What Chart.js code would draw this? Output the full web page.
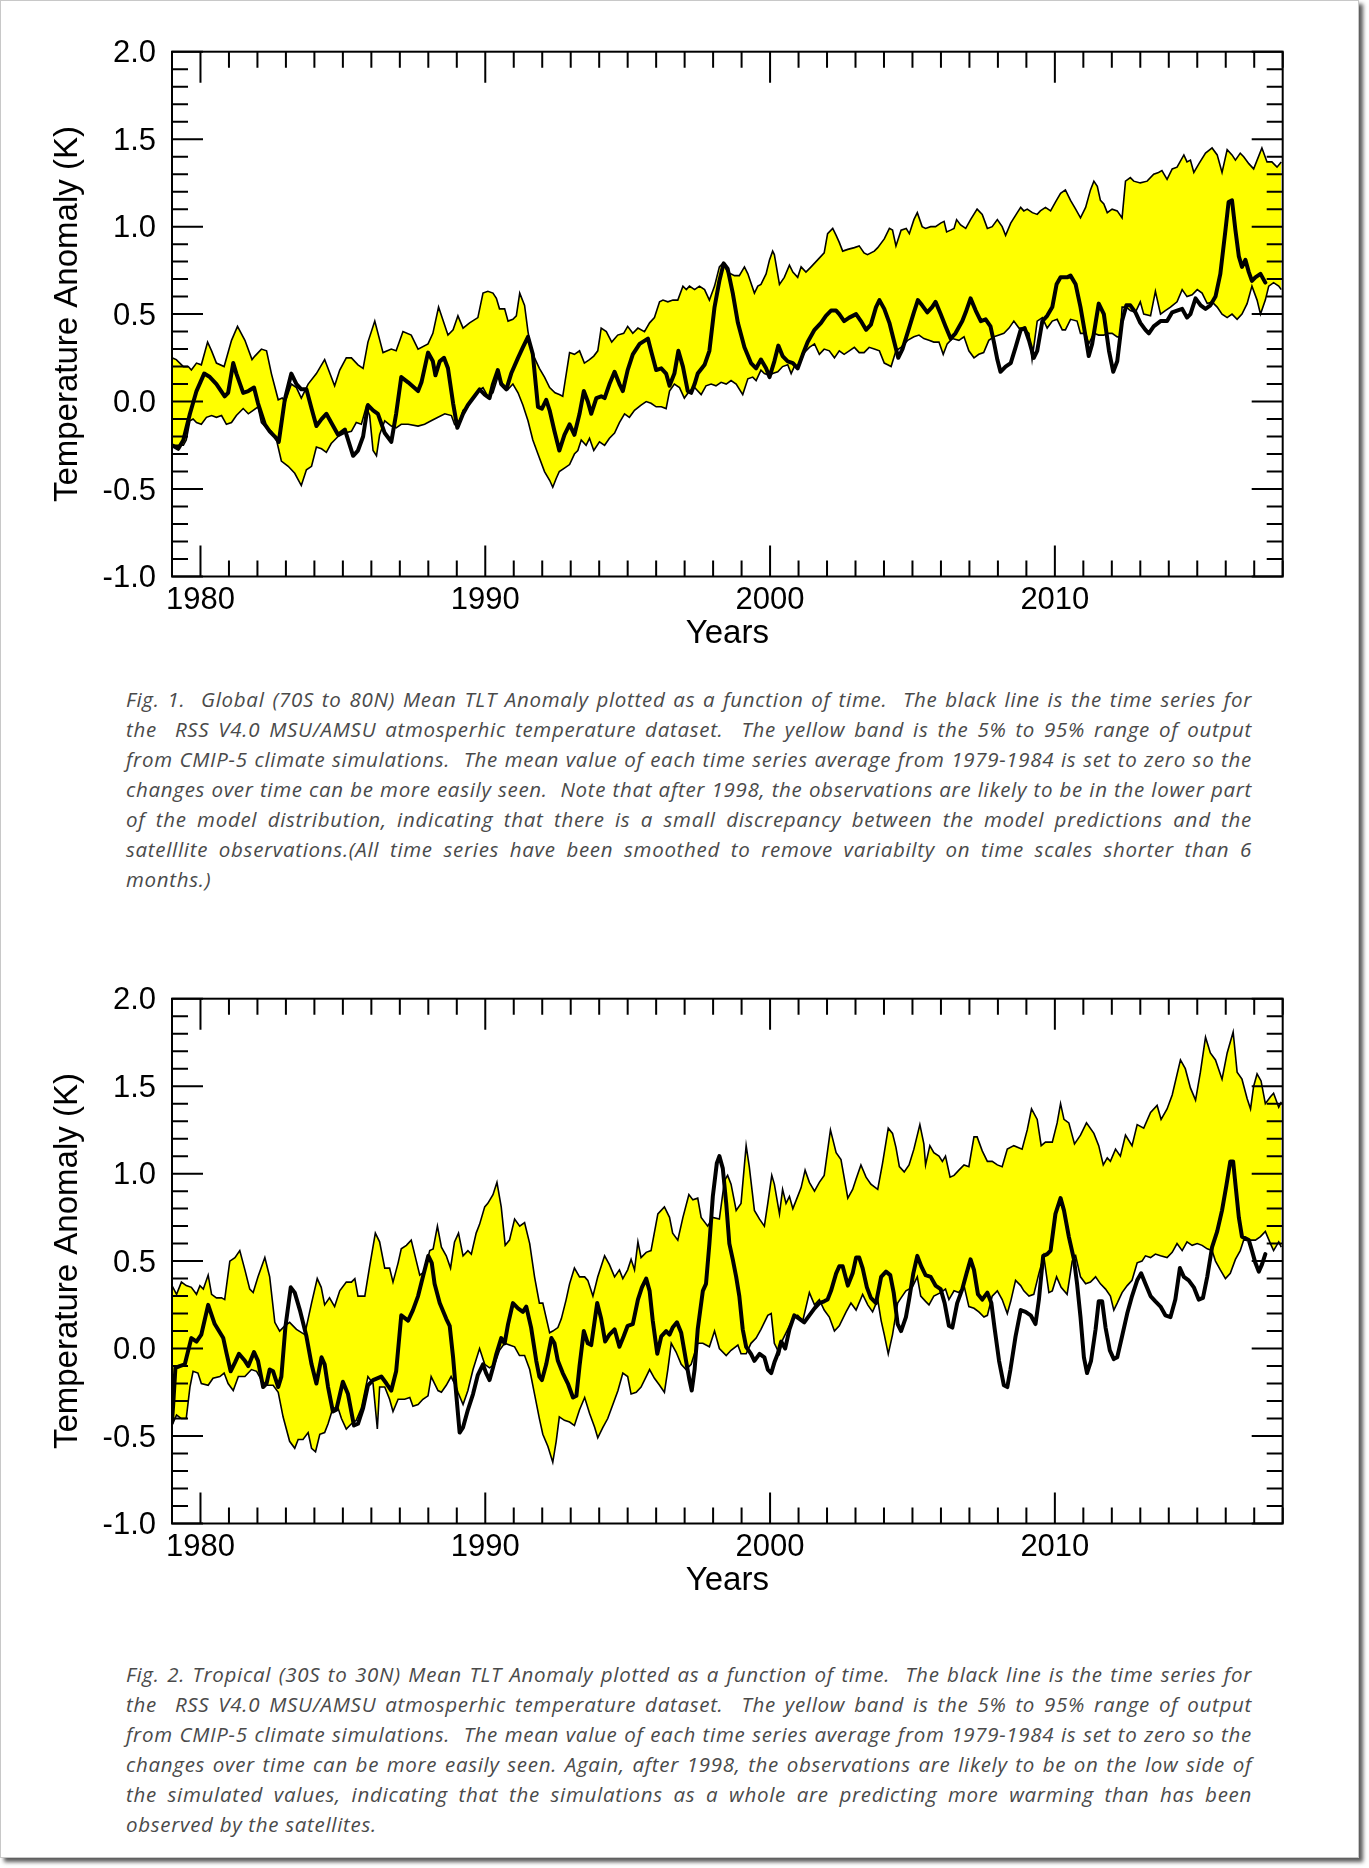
<!DOCTYPE html>
<html>
<head>
<meta charset="utf-8">
<script src="https://cdn.jsdelivr.net/npm/chart.js@4.4.1/dist/chart.umd.min.js"></script>
<style>
html,body{margin:0;padding:0;background:#fff;}
body{width:1369px;height:1868px;position:relative;overflow:hidden;}
#page{position:absolute;left:0;top:0;width:1357px;height:1856px;border:1px solid #c8c8c8;box-shadow:4px 4px 4px rgba(0,0,0,0.65);background:#fff;}
canvas{position:absolute;left:0;}
.cap{position:absolute;left:126px;width:1126px;font-family:"Open Sans",sans-serif;font-style:italic;font-size:20.5px;letter-spacing:0.7px;line-height:30px;color:#4a4a4a;}
.cap div{text-align:justify;text-align-last:justify;height:30px;overflow:visible;}
.cap div.last{text-align-last:left;}
</style>
</head>
<body>
<div id="page"></div>
<canvas id="c1" width="1369" height="660" style="top:0px;width:1369px;height:660px;"></canvas>
<div class="cap" style="top:683.7px;">
<div>Fig. 1.&nbsp; Global (70S to 80N) Mean TLT Anomaly plotted as a function of time.&nbsp; The black line is the time series for</div>
<div>the&nbsp; RSS V4.0 MSU/AMSU atmosperhic temperature dataset.&nbsp; The yellow band is the 5% to 95% range of output</div>
<div>from CMIP-5 climate simulations.&nbsp; The mean value of each time series average from 1979-1984 is set to zero so the</div>
<div>changes over time can be more easily seen.&nbsp; Note that after 1998, the observations are likely to be in the lower part</div>
<div>of the model distribution, indicating that there is a small discrepancy between the model predictions and the</div>
<div>satelllite observations.(All time series have been smoothed to remove variabilty on time scales shorter than 6</div>
<div class="last">months.)</div>
</div>
<canvas id="c2" width="1369" height="660" style="top:947px;width:1369px;height:660px;"></canvas>
<div class="cap" style="top:1658.9px;">
<div>Fig. 2. Tropical (30S to 30N) Mean TLT Anomaly plotted as a function of time.&nbsp; The black line is the time series for</div>
<div>the&nbsp; RSS V4.0 MSU/AMSU atmosperhic temperature dataset.&nbsp; The yellow band is the 5% to 95% range of output</div>
<div>from CMIP-5 climate simulations.&nbsp; The mean value of each time series average from 1979-1984 is set to zero so the</div>
<div>changes over time can be more easily seen. Again, after 1998, the observations are likely to be on the low side of</div>
<div>the simulated values, indicating that the simulations as a whole are predicting more warming than has been</div>
<div class="last">observed by the satellites.</div>
</div>
<script>
// ---------- axis / tick definitions ----------
const xMin = 1979, xMax = 2018;
const xTickValues = [1980, 1990, 2000, 2010];
const xTickLabels = ['1980', '1990', '2000', '2010'];
const yMin = -1.0, yMax = 2.0;
const yTickValues = [-1.0, -0.5, 0.0, 0.5, 1.0, 1.5, 2.0];
const yTickLabels = ['-1.0', '-0.5', '0.0', '0.5', '1.0', '1.5', '2.0'];
const xTitle = 'Years';
const yTitle = 'Temperature Anomaly (K)';

// ---------- Fig.1 Global: [year, K] ----------
const globalUpper = [
[1979.00,0.25],[1979.15,0.24],[1979.40,0.20],[1979.57,0.20],[1979.68,0.18],[1979.86,0.22],[1980.03,0.21],[1980.25,0.34],
[1980.39,0.29],[1980.56,0.22],[1980.83,0.20],[1981.09,0.35],[1981.30,0.43],[1981.56,0.35],[1981.81,0.24],[1981.91,0.26],
[1982.14,0.30],[1982.32,0.29],[1982.49,0.16],[1982.73,0.01],[1982.87,0.02],[1982.98,0.00],[1983.19,0.10],[1983.37,0.08],
[1983.54,0.02],[1983.78,0.10],[1984.07,0.16],[1984.36,0.24],[1984.71,0.09],[1984.89,0.18],[1985.12,0.25],[1985.30,0.25],
[1985.53,0.21],[1985.71,0.19],[1985.88,0.34],[1986.12,0.46],[1986.41,0.28],[1986.70,0.30],[1986.87,0.29],[1987.11,0.40],
[1987.40,0.38],[1987.64,0.30],[1987.99,0.33],[1988.16,0.39],[1988.36,0.54],[1988.69,0.38],[1988.87,0.41],[1989.04,0.49],
[1989.22,0.42],[1989.45,0.45],[1989.74,0.48],[1989.92,0.62],[1990.09,0.63],[1990.27,0.62],[1990.39,0.59],[1990.50,0.53],
[1990.68,0.53],[1990.80,0.46],[1990.97,0.47],[1991.09,0.49],[1991.21,0.62],[1991.38,0.55],[1991.50,0.40],[1991.61,0.30],
[1991.73,0.25],[1991.90,0.19],[1992.08,0.14],[1992.26,0.08],[1992.45,0.05],[1992.60,0.04],[1992.72,0.03],[1992.96,0.28],
[1993.13,0.27],[1993.31,0.29],[1993.48,0.22],[1993.66,0.24],[1993.81,0.26],[1993.95,0.29],[1994.07,0.42],[1994.25,0.40],
[1994.44,0.34],[1994.65,0.38],[1994.86,0.39],[1995.00,0.43],[1995.18,0.39],[1995.36,0.42],[1995.59,0.40],[1995.77,0.45],
[1995.94,0.48],[1996.12,0.57],[1996.24,0.58],[1996.41,0.57],[1996.59,0.58],[1996.76,0.58],[1996.94,0.66],[1997.06,0.64],
[1997.17,0.66],[1997.35,0.64],[1997.52,0.66],[1997.70,0.64],[1997.87,0.58],[1998.05,0.66],[1998.22,0.77],[1998.34,0.79],
[1998.51,0.74],[1998.75,0.72],[1998.92,0.72],[1999.10,0.77],[1999.22,0.73],[1999.45,0.62],[1999.57,0.66],[1999.68,0.67],
[1999.86,0.73],[1999.98,0.81],[2000.09,0.86],[2000.15,0.84],[2000.33,0.67],[2000.50,0.71],[2000.68,0.78],[2000.80,0.74],
[2000.97,0.71],[2001.09,0.77],[2001.26,0.74],[2001.44,0.77],[2001.67,0.81],[2001.90,0.85],[2002.02,0.96],[2002.20,0.99],
[2002.32,0.95],[2002.43,0.91],[2002.55,0.86],[2002.73,0.87],[2002.96,0.88],[2003.13,0.89],[2003.30,0.85],[2003.42,0.84],
[2003.66,0.86],[2003.78,0.88],[2004.01,0.93],[2004.19,0.99],[2004.30,0.98],[2004.42,0.89],[2004.60,0.98],[2004.78,0.99],
[2004.89,0.96],[2005.05,1.04],[2005.17,1.08],[2005.34,1.00],[2005.46,0.99],[2005.64,1.00],[2005.81,1.00],[2005.99,1.02],
[2006.11,1.03],[2006.20,0.97],[2006.34,0.98],[2006.46,0.99],[2006.55,1.04],[2006.69,1.01],[2006.87,0.99],[2007.04,1.04],
[2007.27,1.10],[2007.45,1.07],[2007.63,0.99],[2007.80,1.00],[2007.98,1.04],[2008.15,1.00],[2008.27,0.95],[2008.45,1.02],
[2008.68,1.08],[2008.80,1.11],[2008.91,1.09],[2009.03,1.10],[2009.21,1.08],[2009.38,1.07],[2009.49,1.09],[2009.67,1.11],
[2009.85,1.09],[2010.02,1.14],[2010.20,1.19],[2010.37,1.21],[2010.55,1.15],[2010.73,1.10],[2010.90,1.05],[2011.08,1.11],
[2011.25,1.21],[2011.37,1.26],[2011.49,1.23],[2011.60,1.15],[2011.72,1.13],[2011.84,1.08],[2012.01,1.10],[2012.19,1.09],
[2012.36,1.05],[2012.48,1.26],[2012.65,1.28],[2012.77,1.26],[2013.00,1.25],[2013.24,1.26],[2013.47,1.30],[2013.64,1.31],
[2013.76,1.32],[2013.94,1.27],[2014.12,1.33],[2014.29,1.34],[2014.53,1.41],[2014.64,1.37],[2014.76,1.38],[2014.88,1.31],
[2015.06,1.36],[2015.29,1.42],[2015.52,1.45],[2015.70,1.41],[2015.87,1.31],[2016.05,1.44],[2016.22,1.41],[2016.34,1.38],
[2016.51,1.42],[2016.63,1.40],[2016.81,1.36],[2016.98,1.33],[2017.27,1.45],[2017.45,1.37],[2017.62,1.37],[2017.80,1.34],
[2017.95,1.37]
];
const globalLower = [
[1979.00,-0.25],[1979.15,-0.25],[1979.40,-0.25],[1979.50,-0.22],[1979.63,-0.11],[1979.74,-0.10],[1979.86,-0.12],[1980.03,-0.13],
[1980.21,-0.09],[1980.39,-0.08],[1980.56,-0.09],[1980.74,-0.08],[1980.91,-0.13],[1981.09,-0.12],[1981.26,-0.08],[1981.50,-0.04],
[1981.68,-0.07],[1981.85,-0.05],[1982.02,-0.03],[1982.14,-0.12],[1982.32,-0.15],[1982.49,-0.17],[1982.67,-0.22],[1982.84,-0.34],
[1983.08,-0.37],[1983.31,-0.41],[1983.54,-0.48],[1983.72,-0.39],[1983.90,-0.37],[1984.07,-0.26],[1984.25,-0.27],[1984.42,-0.29],
[1984.59,-0.24],[1984.83,-0.20],[1985.07,-0.18],[1985.30,-0.17],[1985.47,-0.12],[1985.65,-0.13],[1985.82,-0.03],[1985.94,-0.08],
[1986.06,-0.28],[1986.18,-0.31],[1986.29,-0.19],[1986.47,-0.11],[1986.70,-0.14],[1986.87,-0.15],[1987.05,-0.13],[1987.29,-0.13],
[1987.64,-0.14],[1987.87,-0.13],[1988.10,-0.11],[1988.34,-0.09],[1988.58,-0.07],[1988.81,-0.08],[1988.92,-0.13],[1989.04,-0.15],
[1989.22,-0.05],[1989.39,-0.03],[1989.57,0.02],[1989.74,0.06],[1989.92,0.08],[1990.09,0.03],[1990.27,0.05],[1990.44,0.14],
[1990.62,0.10],[1990.80,0.07],[1990.97,0.10],[1991.15,0.05],[1991.32,-0.02],[1991.50,-0.11],[1991.67,-0.22],[1991.85,-0.30],
[1992.08,-0.40],[1992.26,-0.45],[1992.37,-0.49],[1992.49,-0.44],[1992.60,-0.40],[1992.78,-0.38],[1992.96,-0.36],[1993.13,-0.30],
[1993.25,-0.28],[1993.37,-0.22],[1993.54,-0.25],[1993.66,-0.21],[1993.81,-0.28],[1994.01,-0.23],[1994.19,-0.25],[1994.36,-0.21],
[1994.54,-0.18],[1994.71,-0.12],[1994.89,-0.07],[1995.06,-0.09],[1995.24,-0.05],[1995.47,-0.02],[1995.65,0.00],[1995.82,-0.01],
[1996.00,-0.03],[1996.18,-0.03],[1996.35,-0.04],[1996.47,0.06],[1996.64,0.10],[1996.82,0.08],[1996.99,0.02],[1997.17,0.06],
[1997.35,0.08],[1997.58,0.04],[1997.75,0.09],[1997.93,0.10],[1998.10,0.09],[1998.28,0.11],[1998.46,0.10],[1998.63,0.12],
[1998.81,0.10],[1999.04,0.04],[1999.22,0.13],[1999.39,0.14],[1999.51,0.12],[1999.68,0.18],[1999.80,0.16],[1999.98,0.15],
[2000.09,0.16],[2000.27,0.17],[2000.44,0.20],[2000.62,0.21],[2000.74,0.16],[2000.85,0.20],[2001.03,0.21],[2001.20,0.28],
[2001.38,0.31],[2001.56,0.33],[2001.73,0.27],[2001.90,0.30],[2002.08,0.29],[2002.26,0.25],[2002.43,0.29],[2002.60,0.27],
[2002.78,0.29],[2002.96,0.31],[2003.13,0.28],[2003.30,0.28],[2003.48,0.31],[2003.66,0.30],[2003.84,0.29],[2004.01,0.22],
[2004.13,0.21],[2004.25,0.20],[2004.42,0.29],[2004.60,0.31],[2004.83,0.35],[2005.05,0.37],[2005.23,0.38],[2005.40,0.36],
[2005.58,0.35],[2005.75,0.34],[2005.93,0.34],[2006.08,0.27],[2006.22,0.33],[2006.40,0.36],[2006.63,0.35],[2006.81,0.37],
[2006.98,0.29],[2007.16,0.25],[2007.33,0.27],[2007.50,0.28],[2007.68,0.35],[2007.86,0.37],[2008.04,0.38],[2008.21,0.39],
[2008.39,0.42],[2008.56,0.46],[2008.74,0.42],[2008.91,0.42],[2009.09,0.39],[2009.20,0.24],[2009.38,0.46],[2009.56,0.48],
[2009.73,0.42],[2009.91,0.46],[2010.08,0.47],[2010.26,0.41],[2010.37,0.41],[2010.55,0.47],[2010.78,0.46],[2010.90,0.39],
[2011.08,0.39],[2011.19,0.33],[2011.37,0.39],[2011.54,0.38],[2011.72,0.38],[2011.84,0.39],[2012.01,0.39],[2012.19,0.37],
[2012.30,0.37],[2012.36,0.54],[2012.51,0.54],[2012.65,0.52],[2012.83,0.51],[2013.00,0.57],[2013.12,0.50],[2013.36,0.49],
[2013.53,0.63],[2013.71,0.50],[2013.88,0.52],[2014.06,0.54],[2014.29,0.57],[2014.47,0.64],[2014.64,0.60],[2014.82,0.61],
[2015.00,0.64],[2015.17,0.62],[2015.35,0.56],[2015.52,0.57],[2015.70,0.54],[2015.87,0.50],[2016.05,0.48],[2016.22,0.50],
[2016.40,0.47],[2016.57,0.50],[2016.75,0.56],[2016.92,0.66],[2017.10,0.58],[2017.22,0.50],[2017.39,0.58],[2017.51,0.66],
[2017.68,0.68],[2017.86,0.66],[2017.95,0.64]
];
const globalObs = [
[1979.00,-0.25],[1979.22,-0.27],[1979.40,-0.22],[1979.63,-0.07],[1979.86,0.06],[1980.13,0.16],[1980.33,0.14],[1980.56,0.10],
[1980.85,0.03],[1980.97,0.05],[1981.15,0.22],[1981.26,0.16],[1981.50,0.05],[1981.68,0.06],[1981.88,0.08],[1982.02,-0.01],
[1982.26,-0.13],[1982.43,-0.17],[1982.61,-0.20],[1982.75,-0.23],[1982.96,0.01],[1983.19,0.16],[1983.37,0.10],[1983.54,0.07],
[1983.72,0.07],[1983.90,-0.04],[1984.07,-0.14],[1984.25,-0.10],[1984.42,-0.07],[1984.59,-0.12],[1984.83,-0.19],[1985.07,-0.16],
[1985.36,-0.31],[1985.53,-0.28],[1985.71,-0.20],[1985.88,-0.02],[1986.06,-0.05],[1986.23,-0.07],[1986.47,-0.18],[1986.70,-0.23],
[1986.87,-0.07],[1987.05,0.14],[1987.29,0.11],[1987.64,0.06],[1987.76,0.11],[1987.99,0.28],[1988.16,0.23],[1988.25,0.15],
[1988.40,0.23],[1988.55,0.25],[1988.69,0.19],[1988.87,-0.01],[1989.02,-0.15],[1989.22,-0.07],[1989.39,-0.02],[1989.62,0.03],
[1989.80,0.07],[1989.98,0.04],[1990.15,0.02],[1990.27,0.10],[1990.44,0.18],[1990.56,0.10],[1990.74,0.07],[1990.91,0.16],
[1991.15,0.25],[1991.32,0.31],[1991.50,0.37],[1991.67,0.27],[1991.85,-0.03],[1991.99,-0.04],[1992.14,0.01],[1992.26,-0.05],
[1992.43,-0.17],[1992.60,-0.28],[1992.78,-0.19],[1992.96,-0.13],[1993.13,-0.19],[1993.31,-0.07],[1993.46,0.06],[1993.60,0.00],
[1993.72,-0.07],[1993.90,0.02],[1994.07,0.03],[1994.19,0.02],[1994.36,0.10],[1994.54,0.17],[1994.71,0.10],[1994.83,0.06],
[1995.00,0.18],[1995.18,0.27],[1995.42,0.33],[1995.71,0.36],[1995.82,0.29],[1996.00,0.18],[1996.18,0.19],[1996.35,0.16],
[1996.47,0.09],[1996.64,0.16],[1996.78,0.29],[1996.94,0.20],[1997.11,0.06],[1997.23,0.05],[1997.35,0.10],[1997.46,0.16],
[1997.70,0.21],[1997.87,0.29],[1998.05,0.54],[1998.22,0.69],[1998.37,0.79],[1998.51,0.76],[1998.69,0.62],[1998.87,0.45],
[1999.10,0.31],[1999.33,0.22],[1999.51,0.19],[1999.68,0.24],[1999.86,0.19],[1999.98,0.14],[2000.15,0.23],[2000.29,0.32],
[2000.44,0.26],[2000.62,0.23],[2000.80,0.22],[2000.97,0.19],[2001.15,0.27],[2001.32,0.34],[2001.56,0.41],[2001.79,0.45],
[2001.96,0.49],[2002.14,0.52],[2002.32,0.52],[2002.43,0.50],[2002.60,0.46],[2002.78,0.48],[2003.02,0.50],[2003.19,0.46],
[2003.37,0.41],[2003.54,0.44],[2003.72,0.54],[2003.84,0.58],[2004.01,0.53],[2004.19,0.45],[2004.36,0.34],[2004.50,0.25],
[2004.65,0.30],[2004.88,0.42],[2005.05,0.51],[2005.19,0.58],[2005.34,0.55],[2005.52,0.51],[2005.69,0.54],[2005.81,0.57],
[2005.99,0.50],[2006.16,0.43],[2006.34,0.36],[2006.51,0.39],[2006.75,0.46],[2006.87,0.51],[2007.04,0.59],[2007.22,0.52],
[2007.40,0.46],[2007.57,0.47],[2007.74,0.43],[2007.86,0.34],[2007.98,0.24],[2008.09,0.17],[2008.27,0.20],[2008.45,0.22],
[2008.62,0.31],[2008.80,0.41],[2008.94,0.42],[2009.09,0.35],[2009.26,0.25],[2009.38,0.29],[2009.56,0.46],[2009.73,0.49],
[2009.91,0.54],[2010.06,0.67],[2010.20,0.71],[2010.43,0.71],[2010.55,0.72],[2010.73,0.67],[2010.90,0.54],[2011.08,0.37],
[2011.19,0.26],[2011.31,0.33],[2011.43,0.45],[2011.54,0.56],[2011.72,0.50],[2011.90,0.29],[2012.05,0.17],[2012.19,0.23],
[2012.36,0.46],[2012.51,0.55],[2012.65,0.55],[2012.83,0.51],[2013.00,0.45],[2013.18,0.41],[2013.30,0.39],[2013.47,0.43],
[2013.71,0.46],[2013.94,0.46],[2014.12,0.51],[2014.29,0.52],[2014.47,0.53],[2014.64,0.48],[2014.76,0.50],[2014.94,0.59],
[2015.12,0.55],[2015.29,0.53],[2015.46,0.55],[2015.64,0.60],[2015.81,0.73],[2015.99,0.98],[2016.10,1.14],[2016.22,1.15],
[2016.34,0.98],[2016.46,0.83],[2016.57,0.77],[2016.69,0.81],[2016.81,0.74],[2016.92,0.69],[2017.04,0.71],[2017.22,0.73],
[2017.39,0.68]
];

// ---------- Fig.2 Tropical: [year, K] ----------
const tropicalUpper = [
[1979.00,0.36],[1979.16,0.31],[1979.33,0.38],[1979.50,0.36],[1979.68,0.35],[1979.86,0.31],[1979.98,0.36],[1980.10,0.34],
[1980.27,0.42],[1980.39,0.31],[1980.56,0.29],[1980.74,0.29],[1980.85,0.28],[1981.03,0.50],[1981.21,0.52],[1981.38,0.56],
[1981.56,0.45],[1981.73,0.34],[1981.85,0.32],[1982.02,0.41],[1982.26,0.52],[1982.43,0.41],[1982.61,0.15],[1982.78,0.10],
[1982.96,0.13],[1983.13,0.15],[1983.37,0.11],[1983.66,0.08],[1983.90,0.26],[1984.10,0.40],[1984.24,0.35],[1984.36,0.25],
[1984.53,0.29],[1984.71,0.24],[1984.89,0.33],[1985.12,0.38],[1985.30,0.38],[1985.42,0.40],[1985.53,0.30],[1985.77,0.30],
[1985.94,0.47],[1986.14,0.66],[1986.29,0.61],[1986.47,0.46],[1986.64,0.46],[1986.76,0.38],[1986.94,0.49],[1987.05,0.57],
[1987.23,0.59],[1987.40,0.62],[1987.58,0.50],[1987.70,0.42],[1987.87,0.44],[1988.05,0.56],[1988.17,0.57],[1988.32,0.70],
[1988.46,0.58],[1988.63,0.53],[1988.78,0.46],[1988.92,0.61],[1989.06,0.66],[1989.22,0.53],[1989.39,0.56],[1989.51,0.54],
[1989.68,0.66],[1989.80,0.71],[1989.98,0.81],[1990.09,0.83],[1990.27,0.88],[1990.41,0.95],[1990.56,0.81],[1990.70,0.59],
[1990.85,0.62],[1991.03,0.74],[1991.21,0.70],[1991.38,0.72],[1991.56,0.60],[1991.73,0.41],[1991.90,0.26],[1992.02,0.26],
[1992.26,0.09],[1992.37,0.10],[1992.55,0.12],[1992.67,0.17],[1992.84,0.28],[1992.96,0.37],[1993.13,0.46],[1993.31,0.41],
[1993.49,0.41],[1993.60,0.39],[1993.78,0.30],[1993.95,0.41],[1994.19,0.53],[1994.36,0.48],[1994.54,0.41],[1994.71,0.45],
[1994.83,0.40],[1995.00,0.45],[1995.12,0.51],[1995.24,0.45],[1995.36,0.61],[1995.47,0.52],[1995.65,0.55],[1995.82,0.56],
[1996.06,0.77],[1996.29,0.81],[1996.47,0.75],[1996.58,0.66],[1996.76,0.62],[1996.94,0.75],[1997.15,0.88],[1997.29,0.85],
[1997.46,0.86],[1997.58,0.75],[1997.81,0.70],[1997.99,0.75],[1998.22,0.74],[1998.40,0.96],[1998.51,0.99],[1998.63,0.94],
[1998.81,0.79],[1998.98,0.83],[1999.16,1.16],[1999.27,1.04],[1999.45,0.79],[1999.63,0.74],[1999.80,0.70],[1999.92,0.83],
[2000.06,0.99],[2000.15,0.94],[2000.33,0.77],[2000.44,0.91],[2000.56,0.83],[2000.68,0.87],[2000.80,0.80],[2000.97,0.87],
[2001.09,0.92],[2001.23,1.02],[2001.38,0.95],[2001.56,0.90],[2001.73,0.95],[2001.90,0.99],[2002.12,1.25],[2002.32,1.12],
[2002.49,1.08],[2002.73,0.86],[2002.90,0.91],[2003.02,0.97],[2003.19,1.05],[2003.37,0.98],[2003.54,0.94],[2003.78,0.91],
[2003.95,1.06],[2004.15,1.26],[2004.30,1.23],[2004.42,1.15],[2004.54,1.04],[2004.71,1.01],[2004.88,1.05],[2005.05,1.14],
[2005.26,1.28],[2005.40,1.17],[2005.46,1.05],[2005.61,1.16],[2005.75,1.12],[2005.93,1.10],[2006.05,1.07],[2006.16,1.10],
[2006.32,0.98],[2006.46,0.99],[2006.63,1.02],[2006.81,1.05],[2006.98,1.04],[2007.16,1.21],[2007.27,1.21],[2007.45,1.13],
[2007.63,1.07],[2007.80,1.07],[2007.98,1.05],[2008.15,1.04],[2008.33,1.14],[2008.56,1.16],[2008.85,1.14],[2009.03,1.25],
[2009.18,1.37],[2009.38,1.31],[2009.52,1.16],[2009.67,1.18],[2009.91,1.18],[2010.08,1.29],[2010.20,1.40],[2010.32,1.31],
[2010.49,1.29],[2010.69,1.17],[2010.90,1.22],[2011.11,1.29],[2011.37,1.23],[2011.54,1.16],[2011.70,1.05],[2011.84,1.09],
[2011.95,1.07],[2012.13,1.14],[2012.30,1.10],[2012.48,1.22],[2012.71,1.16],[2012.89,1.28],[2013.12,1.26],[2013.36,1.35],
[2013.59,1.39],[2013.73,1.31],[2013.94,1.37],[2014.12,1.45],[2014.41,1.65],[2014.58,1.60],[2014.76,1.49],[2014.94,1.42],
[2015.11,1.58],[2015.29,1.78],[2015.46,1.69],[2015.64,1.65],[2015.87,1.54],[2016.05,1.69],[2016.26,1.81],[2016.40,1.58],
[2016.57,1.54],[2016.75,1.43],[2016.87,1.37],[2016.98,1.50],[2017.10,1.57],[2017.24,1.53],[2017.39,1.40],[2017.57,1.44],
[2017.68,1.46],[2017.86,1.38],[2017.95,1.41]
];
const tropicalLower = [
[1979.00,-0.44],[1979.16,-0.38],[1979.33,-0.40],[1979.50,-0.40],[1979.63,-0.22],[1979.74,-0.13],[1979.91,-0.14],[1980.03,-0.20],
[1980.27,-0.21],[1980.44,-0.17],[1980.68,-0.16],[1980.83,-0.14],[1980.97,-0.20],[1981.15,-0.24],[1981.33,-0.16],[1981.56,-0.16],
[1981.79,-0.12],[1981.97,-0.13],[1982.14,-0.18],[1982.32,-0.21],[1982.55,-0.21],[1982.73,-0.25],[1982.90,-0.39],[1983.13,-0.53],
[1983.31,-0.57],[1983.43,-0.52],[1983.60,-0.52],[1983.78,-0.48],[1983.90,-0.57],[1984.04,-0.59],[1984.19,-0.49],[1984.36,-0.48],
[1984.48,-0.43],[1984.65,-0.34],[1984.83,-0.34],[1984.95,-0.40],[1985.12,-0.46],[1985.30,-0.43],[1985.47,-0.41],[1985.65,-0.34],
[1985.88,-0.16],[1986.06,-0.20],[1986.21,-0.46],[1986.29,-0.22],[1986.47,-0.22],[1986.64,-0.29],[1986.76,-0.36],[1986.94,-0.29],
[1987.17,-0.29],[1987.35,-0.28],[1987.46,-0.33],[1987.64,-0.32],[1987.81,-0.29],[1987.99,-0.27],[1988.10,-0.16],[1988.34,-0.24],
[1988.46,-0.25],[1988.63,-0.21],[1988.80,-0.16],[1988.98,-0.22],[1989.04,-0.25],[1989.22,-0.32],[1989.39,-0.24],[1989.57,-0.12],
[1989.80,0.00],[1989.98,-0.09],[1990.15,-0.11],[1990.33,-0.09],[1990.50,-0.01],[1990.68,0.03],[1990.85,0.02],[1991.03,0.01],
[1991.20,-0.04],[1991.38,-0.04],[1991.56,-0.12],[1991.73,-0.26],[1991.90,-0.40],[1992.02,-0.49],[1992.20,-0.56],[1992.37,-0.65],
[1992.49,-0.53],[1992.60,-0.39],[1992.78,-0.41],[1992.96,-0.42],[1993.13,-0.44],[1993.31,-0.35],[1993.49,-0.28],[1993.66,-0.37],
[1993.84,-0.45],[1993.95,-0.51],[1994.13,-0.45],[1994.30,-0.40],[1994.48,-0.32],[1994.66,-0.24],[1994.83,-0.14],[1995.00,-0.16],
[1995.12,-0.26],[1995.30,-0.25],[1995.47,-0.22],[1995.65,-0.16],[1995.77,-0.12],[1995.94,-0.17],[1996.12,-0.21],[1996.29,-0.25],
[1996.41,-0.12],[1996.53,0.03],[1996.70,-0.02],[1996.88,-0.09],[1997.05,-0.12],[1997.23,-0.09],[1997.46,0.03],[1997.64,0.03],
[1997.87,0.01],[1998.05,0.10],[1998.22,0.00],[1998.46,-0.04],[1998.63,-0.01],[1998.87,0.02],[1998.98,-0.03],[1999.16,-0.03],
[1999.33,0.03],[1999.51,0.06],[1999.68,0.11],[1999.92,0.19],[2000.04,0.20],[2000.15,0.03],[2000.33,-0.03],[2000.44,0.05],
[2000.62,0.11],[2000.80,0.17],[2000.97,0.19],[2001.15,0.16],[2001.38,0.32],[2001.56,0.25],[2001.73,0.28],[2001.90,0.22],
[2002.08,0.18],[2002.26,0.10],[2002.43,0.13],[2002.67,0.21],[2002.84,0.26],[2003.02,0.22],[2003.25,0.31],[2003.43,0.25],
[2003.60,0.21],[2003.78,0.28],[2003.90,0.16],[2004.01,0.08],[2004.15,-0.03],[2004.30,0.08],[2004.48,0.26],[2004.60,0.29],
[2004.77,0.33],[2004.99,0.35],[2005.17,0.41],[2005.29,0.30],[2005.46,0.27],[2005.58,0.25],[2005.75,0.30],[2005.99,0.32],
[2006.16,0.34],[2006.28,0.28],[2006.46,0.33],[2006.63,0.32],[2006.81,0.36],[2006.98,0.24],[2007.16,0.23],[2007.33,0.21],
[2007.51,0.18],[2007.63,0.19],[2007.80,0.30],[2007.98,0.33],[2008.15,0.28],[2008.33,0.20],[2008.45,0.27],[2008.62,0.39],
[2008.80,0.36],[2008.91,0.33],[2009.09,0.30],[2009.26,0.31],[2009.44,0.43],[2009.61,0.53],[2009.79,0.32],[2009.91,0.33],
[2010.06,0.41],[2010.22,0.35],[2010.43,0.31],[2010.61,0.50],[2010.73,0.53],[2010.90,0.41],[2011.08,0.37],[2011.25,0.38],
[2011.43,0.41],[2011.60,0.37],[2011.78,0.34],[2011.95,0.30],[2012.07,0.22],[2012.19,0.26],[2012.36,0.32],[2012.54,0.36],
[2012.71,0.39],[2012.89,0.49],[2013.06,0.50],[2013.18,0.53],[2013.36,0.52],[2013.53,0.54],[2013.71,0.53],[2013.94,0.52],
[2014.12,0.55],[2014.29,0.60],[2014.47,0.56],[2014.64,0.61],[2014.82,0.59],[2015.00,0.60],[2015.17,0.59],[2015.35,0.57],
[2015.52,0.56],[2015.64,0.50],[2015.81,0.45],[2015.99,0.40],[2016.16,0.43],[2016.34,0.51],[2016.51,0.56],[2016.63,0.62],
[2016.87,0.62],[2017.04,0.62],[2017.22,0.64],[2017.39,0.67],[2017.57,0.60],[2017.68,0.56],[2017.86,0.61],[2017.95,0.58]
];
const tropicalObs = [
[1979.00,-0.42],[1979.05,-0.30],[1979.12,-0.11],[1979.27,-0.10],[1979.45,-0.09],[1979.68,0.06],[1979.86,0.04],[1980.03,0.08],
[1980.27,0.25],[1980.50,0.14],[1980.80,0.06],[1980.92,-0.03],[1981.06,-0.13],[1981.21,-0.08],[1981.35,-0.03],[1981.56,-0.07],
[1981.68,-0.10],[1981.88,-0.02],[1982.02,-0.07],[1982.20,-0.22],[1982.32,-0.20],[1982.43,-0.12],[1982.55,-0.13],[1982.73,-0.22],
[1982.84,-0.16],[1982.98,0.12],[1983.17,0.35],[1983.31,0.32],[1983.49,0.22],[1983.72,0.07],[1983.90,-0.09],[1984.07,-0.20],
[1984.25,-0.05],[1984.36,-0.09],[1984.48,-0.22],[1984.65,-0.36],[1984.77,-0.35],[1985.00,-0.19],[1985.18,-0.26],[1985.39,-0.44],
[1985.53,-0.43],[1985.71,-0.34],[1985.88,-0.21],[1986.06,-0.18],[1986.35,-0.16],[1986.53,-0.20],[1986.70,-0.24],[1986.87,-0.13],
[1987.05,0.19],[1987.29,0.16],[1987.46,0.22],[1987.64,0.30],[1987.81,0.41],[1988.00,0.53],[1988.12,0.49],[1988.22,0.37],
[1988.40,0.26],[1988.63,0.17],[1988.75,0.13],[1988.87,-0.05],[1988.98,-0.26],[1989.10,-0.48],[1989.22,-0.45],[1989.39,-0.35],
[1989.57,-0.26],[1989.74,-0.15],[1989.92,-0.09],[1990.03,-0.14],[1990.15,-0.18],[1990.27,-0.11],[1990.39,-0.03],[1990.56,0.06],
[1990.68,0.03],[1990.80,0.14],[1990.97,0.26],[1991.15,0.23],[1991.32,0.21],[1991.44,0.24],[1991.61,0.12],[1991.79,-0.07],
[1991.90,-0.16],[1991.99,-0.18],[1992.14,-0.09],[1992.32,0.06],[1992.43,0.03],[1992.55,-0.07],[1992.72,-0.14],[1992.90,-0.20],
[1993.08,-0.28],[1993.20,-0.27],[1993.31,-0.10],[1993.46,0.10],[1993.60,0.03],[1993.72,0.02],[1993.93,0.26],[1994.07,0.17],
[1994.21,0.04],[1994.36,0.08],[1994.54,0.11],[1994.71,0.01],[1994.86,0.07],[1995.00,0.13],[1995.18,0.14],[1995.36,0.28],
[1995.50,0.35],[1995.65,0.40],[1995.77,0.33],[1995.88,0.16],[1996.04,-0.03],[1996.18,0.07],[1996.35,0.10],[1996.47,0.08],
[1996.58,0.12],[1996.73,0.15],[1996.88,0.09],[1997.05,-0.07],[1997.17,-0.18],[1997.25,-0.24],[1997.35,-0.12],[1997.46,0.11],
[1997.64,0.33],[1997.75,0.37],[1997.87,0.60],[1997.99,0.87],[1998.13,1.06],[1998.22,1.10],[1998.34,1.03],[1998.46,0.83],
[1998.57,0.60],[1998.69,0.51],[1998.81,0.41],[1998.92,0.30],[1999.04,0.11],[1999.16,0.01],[1999.33,-0.03],[1999.45,-0.07],
[1999.63,-0.03],[1999.80,-0.05],[1999.92,-0.12],[2000.04,-0.14],[2000.15,-0.08],[2000.27,-0.03],[2000.39,0.04],[2000.53,0.00],
[2000.68,0.11],[2000.85,0.19],[2001.03,0.17],[2001.20,0.15],[2001.38,0.19],[2001.56,0.23],[2001.73,0.26],[2001.90,0.27],
[2002.02,0.28],[2002.14,0.33],[2002.32,0.43],[2002.43,0.47],[2002.55,0.47],[2002.73,0.36],[2002.90,0.43],[2003.02,0.52],
[2003.13,0.52],[2003.25,0.46],[2003.40,0.35],[2003.54,0.29],[2003.72,0.26],[2003.90,0.41],[2004.07,0.44],[2004.22,0.42],
[2004.34,0.32],[2004.48,0.14],[2004.60,0.10],[2004.77,0.18],[2004.88,0.28],[2005.03,0.43],[2005.17,0.53],[2005.31,0.47],
[2005.46,0.42],[2005.64,0.41],[2005.81,0.36],[2005.99,0.34],[2006.13,0.26],[2006.28,0.13],[2006.40,0.12],[2006.57,0.26],
[2006.75,0.34],[2006.90,0.43],[2007.04,0.51],[2007.16,0.45],[2007.30,0.31],[2007.45,0.28],[2007.63,0.32],[2007.77,0.26],
[2007.88,0.12],[2008.04,-0.07],[2008.21,-0.21],[2008.33,-0.22],[2008.44,-0.12],[2008.62,0.07],[2008.80,0.22],[2008.97,0.21],
[2009.15,0.19],[2009.32,0.14],[2009.44,0.28],[2009.59,0.53],[2009.73,0.54],[2009.85,0.56],[2010.02,0.77],[2010.20,0.86],
[2010.32,0.79],[2010.49,0.64],[2010.67,0.51],[2010.78,0.37],[2010.90,0.18],[2011.02,-0.05],[2011.13,-0.14],[2011.27,-0.07],
[2011.43,0.11],[2011.54,0.27],[2011.66,0.27],[2011.78,0.12],[2011.93,-0.01],[2012.07,-0.06],[2012.19,-0.05],[2012.36,0.07],
[2012.54,0.20],[2012.71,0.30],[2012.89,0.39],[2013.03,0.43],[2013.18,0.37],[2013.36,0.30],[2013.53,0.27],[2013.71,0.24],
[2013.88,0.19],[2014.06,0.18],[2014.23,0.28],[2014.39,0.46],[2014.53,0.41],[2014.70,0.39],[2014.88,0.35],[2015.05,0.28],
[2015.20,0.29],[2015.35,0.41],[2015.52,0.58],[2015.70,0.67],[2015.87,0.79],[2016.02,0.93],[2016.16,1.07],[2016.26,1.07],
[2016.34,0.94],[2016.46,0.75],[2016.57,0.64],[2016.69,0.63],[2016.81,0.62],[2016.92,0.56],[2017.04,0.49],[2017.16,0.44],
[2017.27,0.48],[2017.39,0.54]
];

// ---------- drawing ----------
const FONT = 'Liberation Sans, Arial, Helvetica, sans-serif';
const MAJOR_LEN = 31, MINOR_LEN = 16;

const idlTicks = {
  id: 'idlTicks',
  afterDatasetsDraw(chart) {
    const {ctx, chartArea: a, scales: {x, y}} = chart;
    ctx.save();
    ctx.strokeStyle = '#000';
    ctx.lineWidth = 2;
    ctx.lineCap = 'butt';
    ctx.beginPath();
    for (let yr = xMin; yr <= xMax; yr++) {
      const px = x.getPixelForValue(yr);
      const len = xTickValues.includes(yr) ? MAJOR_LEN : MINOR_LEN;
      ctx.moveTo(px, a.bottom); ctx.lineTo(px, a.bottom - len);
      ctx.moveTo(px, a.top); ctx.lineTo(px, a.top + len);
    }
    for (let k = Math.round(yMin * 10); k <= Math.round(yMax * 10); k++) {
      const py = y.getPixelForValue(k / 10);
      const len = (k % 5 === 0) ? MAJOR_LEN : MINOR_LEN;
      ctx.moveTo(a.left, py); ctx.lineTo(a.left + len, py);
      ctx.moveTo(a.right, py); ctx.lineTo(a.right - len, py);
    }
    ctx.stroke();
    ctx.strokeRect(a.left, a.top, a.right - a.left, a.bottom - a.top);
    ctx.restore();
  }
};

const toPts = arr => arr.map(p => ({x: p[0], y: p[1]}));

function makeChart(id, upper, lower, obs) {
  return new Chart(document.getElementById(id), {
    type: 'line',
    data: {
      datasets: [
        {data: toPts(obs), borderColor: '#000', borderWidth: 4, pointRadius: 0, fill: false, order: 0, borderJoinStyle: 'round', borderCapStyle: 'round'},
        {data: toPts(upper), borderColor: '#000', borderWidth: 1.6, pointRadius: 0, fill: '+1', backgroundColor: '#ffff00', order: 1},
        {data: toPts(lower), borderColor: '#000', borderWidth: 1.6, pointRadius: 0, fill: false, order: 2}
      ]
    },
    options: {
      responsive: false,
      animation: false,
      events: [],
      layout: {padding: {left: 20, right: 86.3, top: 51.7, bottom: 3.5}},
      plugins: {
        legend: {display: false},
        tooltip: {enabled: false},
        filler: {drawTime: 'beforeDatasetsDraw'}
      },
      elements: {line: {tension: 0}},
      scales: {
        x: {
          type: 'linear', min: xMin, max: xMax,
          afterBuildTicks: s => { s.ticks = xTickValues.map(v => ({value: v})); },
          afterFit: s => { s.height = 80; s.paddingLeft = 0; s.paddingRight = 0; },
          grid: {display: false, drawTicks: false},
          border: {display: false},
          ticks: {autoSkip: false, maxRotation: 0, padding: 5, color: '#000',
                  font: {family: FONT, size: 31},
                  callback: v => xTickLabels[xTickValues.indexOf(v)]},
          title: {display: true, text: xTitle, color: '#000', font: {family: FONT, size: 33}, padding: {top: 0, bottom: 3}}
        },
        y: {
          type: 'linear', min: yMin, max: yMax,
          afterBuildTicks: s => { s.ticks = yTickValues.map(v => ({value: v})); },
          afterFit: s => { s.width = 152; s.paddingTop = 0; s.paddingBottom = 0; },
          grid: {display: false, drawTicks: false},
          border: {display: false},
          ticks: {autoSkip: false, padding: 16, labelOffset: 2, color: '#000',
                  font: {family: FONT, size: 31},
                  callback: v => yTickLabels[yTickValues.findIndex(t => Math.abs(t - v) < 1e-9)]},
          title: {display: true, text: yTitle, color: '#000', font: {family: FONT, size: 33}, padding: {top: 28, bottom: 0}}
        }
      }
    },
    plugins: [idlTicks]
  });
}

makeChart('c1', globalUpper, globalLower, globalObs);
makeChart('c2', tropicalUpper, tropicalLower, tropicalObs);
</script>
</body>
</html>
